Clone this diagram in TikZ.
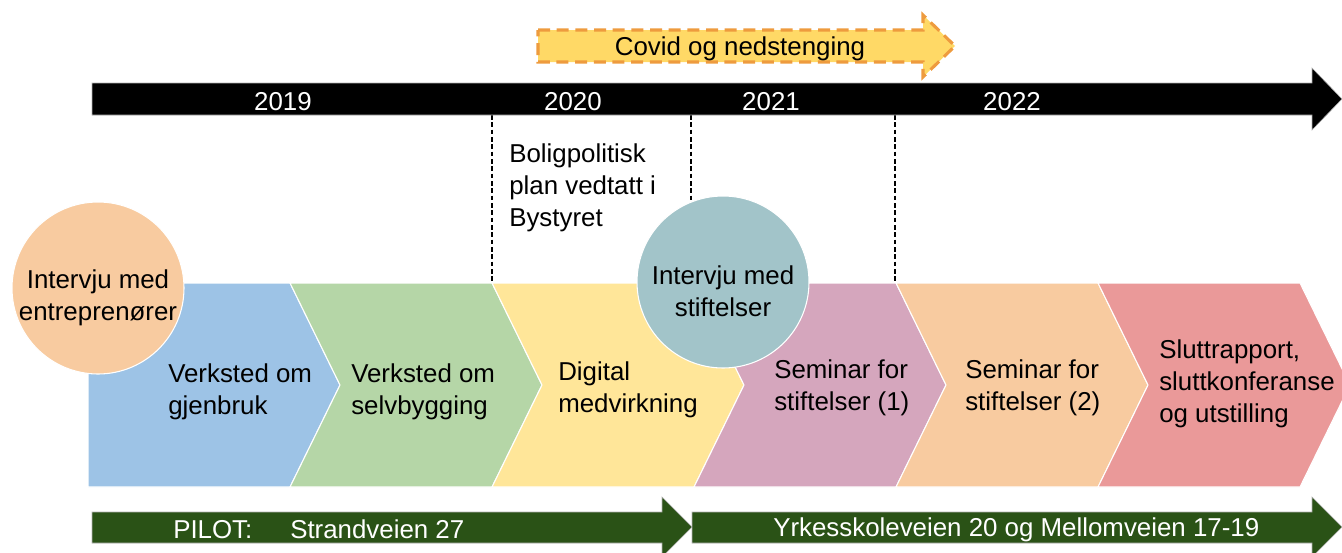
\documentclass[tikz,border=0pt]{standalone}
\usepackage{fontspec}
\setmainfont{Liberation Sans}
\definecolor{cblue}{HTML}{9DC3E6}
\definecolor{cgreen}{HTML}{B5D6A7}
\definecolor{cyellow}{HTML}{FFE699}
\definecolor{cpink}{HTML}{D5A6BD}
\definecolor{cpeach}{HTML}{F8CBA0}
\definecolor{cred}{HTML}{EA9999}
\definecolor{cteal}{HTML}{A2C4C9}
\definecolor{cdark}{HTML}{2A5216}
\definecolor{ccovid}{HTML}{FFD966}
\definecolor{ccovidline}{HTML}{EE9B3E}

\begin{document}
\begin{tikzpicture}
  [x=0.75pt,y=-0.75pt,
   every node/.style={font=\fontsize{19.4}{24}\selectfont,inner sep=0pt,yshift=-1.8pt},
   txt/.style={anchor=west,align=left},
   year/.style={text=white},
   bubble/.style={draw=white,line width=0.8pt},
   band/.style={draw=gray!60,line width=0.4pt}]
  \clip (0,0) rectangle (1342,553);
  % phases
  \foreach \i/\col/\n in {0/cblue/0,1/cgreen/50,2/cyellow/50,3/cpink/50,4/cpeach/50,5/cred/50}
    {
    \pgfmathsetmacro\xa{88+202*\i}
    \fill[\col,draw=white,line width=0.8pt] (\xa,283) -- ({\xa+202},283) -- ({\xa+252},385)
      -- ({\xa+202},487) -- (\xa,487) -- ({\xa+\n},385) -- cycle;
    }
  % year marks
  \foreach \x in {492,691,895}
    \draw[line width=1pt,dash pattern=on 3.5pt off 2pt] (\x,115) -- (\x,283);
  % timeline
  \fill[black,band] (92,83) -- (1312,83) -- (1312,68) -- (1342,99) -- (1312,130)
    -- (1312,115) -- (92,115) -- cycle;
  \node[year] (y19) at (283,99) {2019};
  \node[year] (y20) at (573,99) {2020};
  \node[year] (y21) at (771,99) {2021};
  \node[year] (y22) at (1012,99) {2022};
  % covid
  \fill[ccovid,draw=ccovidline,line width=2.3pt,dash pattern=on 9pt off 5pt]
    (538,30) -- (923,30) -- (923,15) -- (955,46) -- (923,77) -- (923,62) -- (538,62) -- cycle;
  \node (covid) at (740,46) {Covid og nedstenging};
  \node[txt] (plan) at (509,185) {Boligpolitisk\\plan vedtatt i\\Bystyret};
  % interviews
  \fill[cpeach,bubble] (98,288) circle[radius=86];
  \fill[cteal,bubble] (723,282) circle[radius=86];
  \node[align=center] (int1) at (98,295) {Intervju med\\entreprenører};
  \node[align=center] (int2) at (723,289) {Intervju med\\stiftelser};
  % phase labels
  \node[txt] (p1) at (168,389) {Verksted om\\gjenbruk};
  \node[txt] (p2) at (351,389) {Verksted om\\selvbygging};
  \node[txt] (p3) at (558,387) {Digital\\medvirkning};
  \node[txt] (p4) at (774,385) {Seminar for\\stiftelser (1)};
  \node[txt] (p5) at (965,385) {Seminar for\\stiftelser (2)};
  \node[txt] (p6) at (1159,381) {Sluttrapport,\\sluttkonferanse\\og utstilling};
  % sites
  \fill[cdark,band] (92,512) -- (662,512) -- (662,497) -- (692,527) -- (662,557)
    -- (662,543) -- (92,543) -- cycle;
  \fill[cdark,band] (692,512) -- (1312,512) -- (1312,497) -- (1342,527) -- (1312,557)
    -- (1312,543) -- (692,543) -- cycle;
  \node[txt,year] (pilot) at (173,527) {PILOT:};
  \node[txt,year] (site1) at (290,527) {Strandveien 27};
  \node[txt,year] (site2) at (773,527) {Yrkesskoleveien 20 og Mellomveien 17-19};
\end{tikzpicture}
\end{document}
